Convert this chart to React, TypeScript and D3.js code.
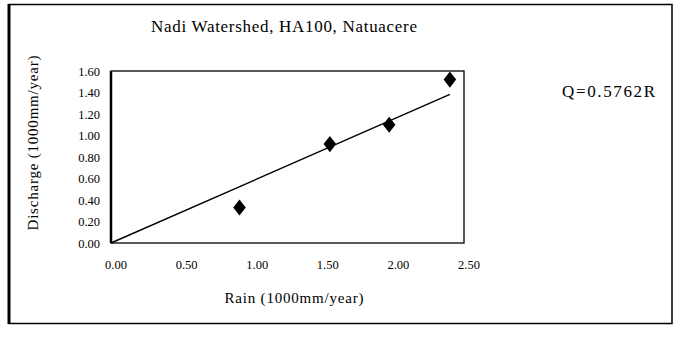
import React from "react";
import * as d3 from "d3";

// rain (1000mm/year) vs discharge (1000mm/year)
const rain = [0.91, 1.55, 1.97, 2.4];
const discharge = [0.33, 0.92, 1.1, 1.52];
const slope = 0.5762;
const xTicks = [0, 0.5, 1, 1.5, 2, 2.5];
const yTicks = [0, 0.2, 0.4, 0.6, 0.8, 1.0, 1.2, 1.4, 1.6];
const title = "Nadi Watershed, HA100, Natuacere";
const xTitle = "Rain (1000mm/year)";
const yTitle = "Discharge (1000mm/year)";
const eqText = "Q=0.5762R";

const W = 678;
const H = 337;
const serif = { fontFamily: "'Liberation Serif', 'DejaVu Serif', serif" };

export default function App() {
  const x = d3.scaleLinear().domain([0, 2.5]).range([111, 464]);
  const y = d3.scaleLinear().domain([0, 1.6]).range([243, 71]);
  const fmt = d3.format(".2f");

  const trend = d3
    .line<number>()
    .x((d) => x(d))
    .y((d) => y(slope * d));
  const trendPath = trend([0, d3.max(rain) as number]);

  // excel-style diamond: a bit wider than d3's default
  const diamond = d3.symbol().type(d3.symbolDiamond).size(75)();

  return (
    <svg
      width={W}
      height={H}
      style={{ position: "absolute", left: 0, top: 0, background: "#fff" }}
    >
      {/* outer chart frame */}
      <rect x={9} y={4.5} width={663} height={319} fill="none" stroke="#000" strokeWidth={1.5} />
      <line x1={9} y1={4} x2={9} y2={324} stroke="#000" strokeWidth={3} />

      <text x={284} y={32} textAnchor="middle" fontSize={17} style={serif} textLength={266}>
        {title}
      </text>

      {/* plot area */}
      <rect
        x={x(0)}
        y={y(1.6)}
        width={x(2.5) - x(0)}
        height={y(0) - y(1.6)}
        fill="#fff"
        stroke="#000"
        strokeWidth={1.3}
      />
      <line x1={x(0)} y1={y(1.6)} x2={x(0)} y2={y(0)} stroke="#000" strokeWidth={2.5} />

      {yTicks.map((t) => (
        <text key={"y" + t} x={100} y={y(t) + 4.5} textAnchor="end" fontSize={12.5} style={serif}>
          {fmt(t)}
        </text>
      ))}
      {xTicks.map((t) => (
        <text key={"x" + t} x={x(t) + 5} y={269} textAnchor="middle" fontSize={12.5} style={serif}>
          {fmt(t)}
        </text>
      ))}

      <path d={trendPath ?? ""} fill="none" stroke="#000" strokeWidth={1.4} />

      {rain.map((r, i) => (
        <path
          key={i}
          d={diamond ?? ""}
          transform={`translate(${x(r)},${y(discharge[i])}) scale(1.35,1)`}
          fill="#000"
        />
      ))}

      <text x={294} y={303} textAnchor="middle" fontSize={15} style={serif} textLength={139}>
        {xTitle}
      </text>
      <text
        transform={`translate(38,${143}) rotate(-90)`}
        textAnchor="middle"
        fontSize={15}
        style={serif}
        textLength={175}
      >
        {yTitle}
      </text>

      <text x={562} y={97} fontSize={17} style={serif} textLength={93}>
        {eqText}
      </text>
    </svg>
  );
}
